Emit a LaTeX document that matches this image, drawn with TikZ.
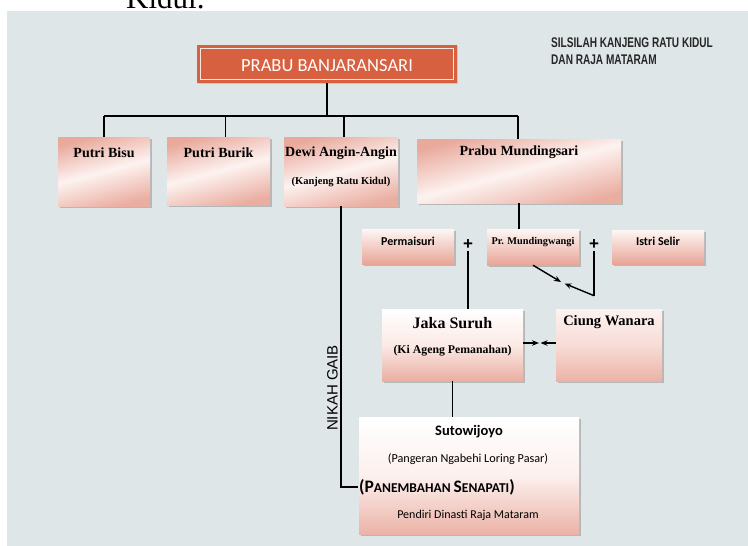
\documentclass[tikz,border=0pt]{standalone}
\usepackage{fontspec}
\setmainfont{Liberation Serif}
\newfontfamily\calfont{Carlito}
\newfontfamily\gaibfont{Liberation Sans}
\usetikzlibrary{shadows,arrows.meta}
\definecolor{bgc}{HTML}{DFE6E8}
\definecolor{salmon}{HTML}{E8A597}
\definecolor{pale}{HTML}{FBEAE6}
\definecolor{topred}{HTML}{D6603F}
\newcommand{\ttl}[1]{\scalebox{0.72}[1]{\gaibfont\bfseries\fontsize{14}{14}\selectfont #1}}
\tikzset{
  conn/.style={draw=black, line width=1.5pt},
  arr/.style={conn, line width=1.4pt, -{Stealth[length=7pt,width=5.5pt]}},
  boxbase/.style={rectangle, inner sep=0pt, draw=none,
     drop shadow={shadow xshift=1.5pt, shadow yshift=-1.5pt, fill=black!45, opacity=0.5}},
  rowone/.style={boxbase, shading=axis, top color=salmon!95!white, bottom color=salmon!90!white, middle color=pale!60!white, shading angle=15},
  rowtwo/.style={boxbase, shading=axis, top color=pale!40!white, bottom color=salmon},
  lowbox/.style={boxbase, shading=axis, top color=white, bottom color=salmon!90, middle color=pale},
  tbt/.style={font=\fontsize{14}{14}\selectfont\bfseries, inner sep=1pt},
  tbs/.style={font=\fontsize{10.5}{10.5}\selectfont\bfseries, inner sep=1pt},
  cbt/.style={font=\calfont\fontsize{12}{12}\selectfont\bfseries, inner sep=1pt},
  plusst/.style={font=\gaibfont\fontsize{17}{17}\selectfont\bfseries, inner sep=0.5pt},
  ttlst/.style={anchor=west, text=black!85, inner sep=0pt},
}
\begin{document}
\begin{tikzpicture}[x=1pt,y=-1pt]
\useasboundingbox (0,0) rectangle (748,546);
\clip (0,0) rectangle (748,546);
\fill[bgc] (7,11) rectangle (748,546);
\node[anchor=base west, font=\fontsize{31}{31}\selectfont, inner sep=0pt] (kidul) at (126,9) {Kidul.};

% title
\node[ttlst] (title1) at (551,43) {\ttl{SILSILAH KANJENG RATU KIDUL}};
\node[ttlst] (title2) at (551,60) {\ttl{DAN RAJA MATARAM}};

% top box
\node[rectangle, fill=topred, minimum width=260pt, minimum height=38pt, inner sep=0pt,
  drop shadow={shadow xshift=1.2pt, shadow yshift=-1.2pt, fill=black!40, opacity=0.4}] (top) at (327,64) {};
\draw[white!85!topred, line width=0.9pt] ([shift={(3.5pt,-3.5pt)}]top.north west) rectangle ([shift={(-3.5pt,3.5pt)}]top.south east);
\node[font=\calfont\fontsize{18.5}{18.5}\selectfont, text=white, inner sep=0pt] (topT) at (327,66) {PRABU BANJARANSARI};

% first row
\node[rowone, minimum width=92pt, minimum height=69pt] (bisu) at (104,171.5) {};
\node[tbt] (bisuT) at ([yshift=-16pt]bisu.north) {Putri Bisu};
\node[rowone, minimum width=103pt, minimum height=68pt] (burik) at (218.5,171) {};
\node[tbt] (burikT) at ([yshift=-16pt]burik.north) {Putri Burik};
\node[rowone, minimum width=114pt, minimum height=69pt] (dewi) at (341,171.5) {};
\node[tbt] (dewiT) at ([yshift=-16pt]dewi.north) {Dewi Angin-Angin};
\node[tbs] (dewiS) at ([yshift=-45pt]dewi.north) {(Kanjeng Ratu Kidul)};
\node[rowone, minimum width=204pt, minimum height=64pt] (msari) at (519,171) {};
\node[tbt] (msariT) at ([yshift=-13pt]msari.north) {Prabu Mundingsari};

% bus
\coordinate (busL) at (104,116);
\coordinate (busR) at (518,116);
\draw[conn] (busL) -- (busR);
\draw[conn] (top.south) -- (top.south |- busL);
\draw[conn] (busL) -- (bisu.north);
\draw[conn] ([xshift=7pt]burik.north |- busL) -- ([xshift=7pt]burik.north);
\draw[conn] ([xshift=3pt]dewi.north |- busL) -- ([xshift=3pt]dewi.north);
\draw[conn] (busR) -- (busR |- msari.north);

% second row
\node[rowtwo, minimum width=92pt, minimum height=35pt] (perm) at (408,246.5) {};
\node[cbt] (permT) at ([yshift=-13pt]perm.north) {Permaisuri};
\node[rowtwo, minimum width=92pt, minimum height=36pt] (mwangi) at (533,247) {};
\node[tbs, font=\fontsize{10.3}{10.3}\selectfont\bfseries] (mwangiT) at ([yshift=-13pt]mwangi.north) {Pr. Mundingwangi};
\node[rowtwo, minimum width=92pt, minimum height=34pt] (selir) at (658,247) {};
\node[cbt] (selirT) at ([yshift=-12pt]selir.north) {Istri Selir};
\draw[conn] (msari.south) -- (msari.south |- mwangi.north);

\node[plusst] (plus1) at (468,245) {+};
\node[plusst] (plus2) at (594,245) {+};

% third row
\node[lowbox, minimum width=141pt, minimum height=72pt] (jaka) at (452.5,345) {};
\node[tbt, font=\fontsize{16}{16}\selectfont\bfseries] (jakaT) at ([yshift=-14pt]jaka.north) {Jaka Suruh};
\node[tbs, font=\fontsize{11.8}{11.8}\selectfont\bfseries] (jakaS) at ([yshift=-42pt]jaka.north) {(Ki Ageng Pemanahan)};
\node[boxbase, shading=axis, minimum width=106pt, minimum height=72pt, top color=pale!60!white, bottom color=salmon!85, middle color=pale!80!salmon] (ciung) at (609,345) {};
\node[tbt, font=\fontsize{14.5}{14.5}\selectfont\bfseries] (ciungT) at ([yshift=-13pt]ciung.north) {Ciung Wanara};

\draw[conn] (plus1.south) -- (plus1.south |- jaka.north);
\draw[conn] (plus2.south) -- ++(0,45) coordinate (cwend);
\coordinate (a1t) at (561,282);
\coordinate (a2t) at (564.5,283.5);
\draw[arr] (mwangi.south) -- (a1t);
\draw[arr] (cwend) -- (a2t);
\coordinate (j1t) at (539,343);
\coordinate (j2t) at (540.5,343);
\draw[arr] (jaka.east |- j1t) -- (j1t);
\draw[arr] (ciung.west |- j2t) -- (j2t);

% Sutowijoyo
\node[boxbase, shading=axis, minimum width=220pt, minimum height=117pt, top color=white, bottom color=salmon!85, middle color=pale!70!white] (suto) at (469,475.5) {};
\node[font=\calfont\fontsize{14.5}{14.5}\selectfont\bfseries, inner sep=1pt] (sutoT) at ([yshift=-15pt]suto.north) {Sutowijoyo};
\node[font=\calfont\fontsize{12.2}{12.2}\selectfont, inner sep=1pt] (sutoS) at ([xshift=-1pt,yshift=-42pt]suto.north) {(Pangeran Ngabehi Loring Pasar)};
\node[anchor=west, font=\calfont\bfseries, inner sep=1pt] (pan) at (358,487)
  {\fontsize{17.5}{17.5}\selectfont (P\fontsize{13.5}{13.5}\selectfont ANEMBAHAN \fontsize{17.5}{17.5}\selectfont S\fontsize{13.5}{13.5}\selectfont ENAPATI\fontsize{17.5}{17.5}\selectfont)};
\node[font=\calfont\fontsize{12}{12}\selectfont, inner sep=1pt] (pend) at ([xshift=-1pt,yshift=-99pt]suto.north) {Pendiri Dinasti Raja Mataram};
\draw[conn] (jaka.south) -- (jaka.south |- suto.north);

% Nikah gaib
\draw[conn] (dewi.south) |- (pan.west);
\node[rotate=90, anchor=south, font=\gaibfont\fontsize{15}{15}\selectfont, inner sep=1pt] (ngl) at (339,388) {NIKAH GAIB};
\end{tikzpicture}
\end{document}
